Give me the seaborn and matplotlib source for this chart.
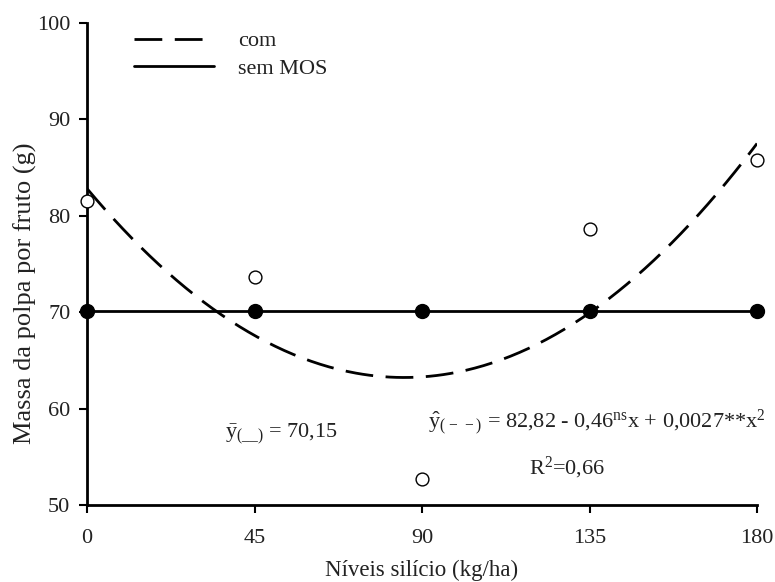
import numpy as np
import pandas as pd
import matplotlib
matplotlib.use("Agg")
import matplotlib.pyplot as plt
import seaborn as sns
from matplotlib.lines import Line2D

# Silicon levels (kg/ha)
doses = [0, 45, 90, 135, 180]
# Observed pulp mass per fruit (g), with MOS
com_obs = [81.5, 73.6, 52.7, 78.6, 85.8]
# Observed pulp mass per fruit (g), without MOS (constant mean)
sem_obs = [70.15, 70.15, 70.15, 70.15, 70.15]
# Fitted quadratic for "com": b0 + b1*x + b2*x^2
coef_com = [82.82, -0.46, 0.0027]
mean_sem = 70.15

sns.set_theme(style="ticks")
plt.rcParams["font.family"] = ["Liberation Serif", "DejaVu Serif"]
plt.rcParams["mathtext.fontset"] = "custom"
plt.rcParams["mathtext.rm"] = "Liberation Serif"
plt.rcParams["mathtext.it"] = "Liberation Serif"
plt.rcParams["mathtext.bf"] = "Liberation Serif:bold"

TXT = "#222222"
fig = plt.figure(figsize=(7.75, 5.82), dpi=100)
ax = fig.add_axes([0.1123, 0.1323, 0.8645, 0.8282])

xs = np.linspace(0, 180, 300)
curve = pd.DataFrame({"x": xs,
                      "y": coef_com[0] + coef_com[1] * xs + coef_com[2] * xs ** 2})
flat = pd.DataFrame({"x": [0, 180], "y": [mean_sem, mean_sem]})

sns.lineplot(data=curve, x="x", y="y", ax=ax, color="black", lw=2.0, zorder=2)
ax.lines[-1].set_dashes([10, 4.5])
sns.lineplot(data=flat, x="x", y="y", ax=ax, color="black", lw=2.0, zorder=2)

pts = pd.DataFrame({"x": doses, "com": com_obs, "sem": sem_obs})
sns.scatterplot(data=pts, x="x", y="sem", ax=ax, color="black", s=100,
                edgecolor="black", linewidth=1, zorder=4, clip_on=False)
sns.scatterplot(data=pts, x="x", y="com", ax=ax, facecolor="white", s=85,
                edgecolor="black", linewidth=1.0, zorder=5, clip_on=False)

ax.set_xlim(0, 180)
ax.set_ylim(50, 100)
ax.set_xticks(doses)
ax.set_yticks([50, 60, 70, 80, 90, 100])
ax.tick_params(axis="both", direction="out", length=6, width=1.5,
               labelsize=16, color="black", labelcolor=TXT)
ax.tick_params(axis="x", pad=11)
ax.tick_params(axis="y", pad=6)
for side in ("left", "bottom"):
    ax.spines[side].set_linewidth(2)
    ax.spines[side].set_color("black")
sns.despine(ax=ax)

ax.set_xlabel("Níveis silício (kg/ha)", fontsize=16.5, color=TXT, labelpad=9)
ax.set_ylabel("Massa da polpa por fruto (g)", fontsize=19, color=TXT)
ax.yaxis.set_label_coords(-0.075, 0.44)

handles = [Line2D([], [], color="black", lw=2.0, dashes=[10, 4.5]),
           Line2D([], [], color="black", lw=2.0)]
ax.legend(handles, ["com", "sem MOS"], loc="upper left",
          bbox_to_anchor=(0.04, 1.025), frameon=False, fontsize=16,
          handlelength=3.6, handletextpad=1.1, labelspacing=0.32,
          labelcolor=TXT)

ax.text(37.0, 57.4, r"$\bar{\mathrm{y}}_{(\_\_)}$ = 70,15", fontsize=16,
        color=TXT, va="center", ha="left")
ax.text(91.5, 58.6,
        r"$\hat{\mathrm{y}}_{(\,-\,-)}$ = 82,82 - 0,46$^{\mathrm{ns}}$x + 0,0027**x$^{2}$",
        fontsize=16, color=TXT, va="center", ha="left")
ax.text(129, 53.8, r"R$^{2}$=0,66", fontsize=16, color=TXT,
        va="center", ha="center")

fig.savefig("out.png", dpi=100)
